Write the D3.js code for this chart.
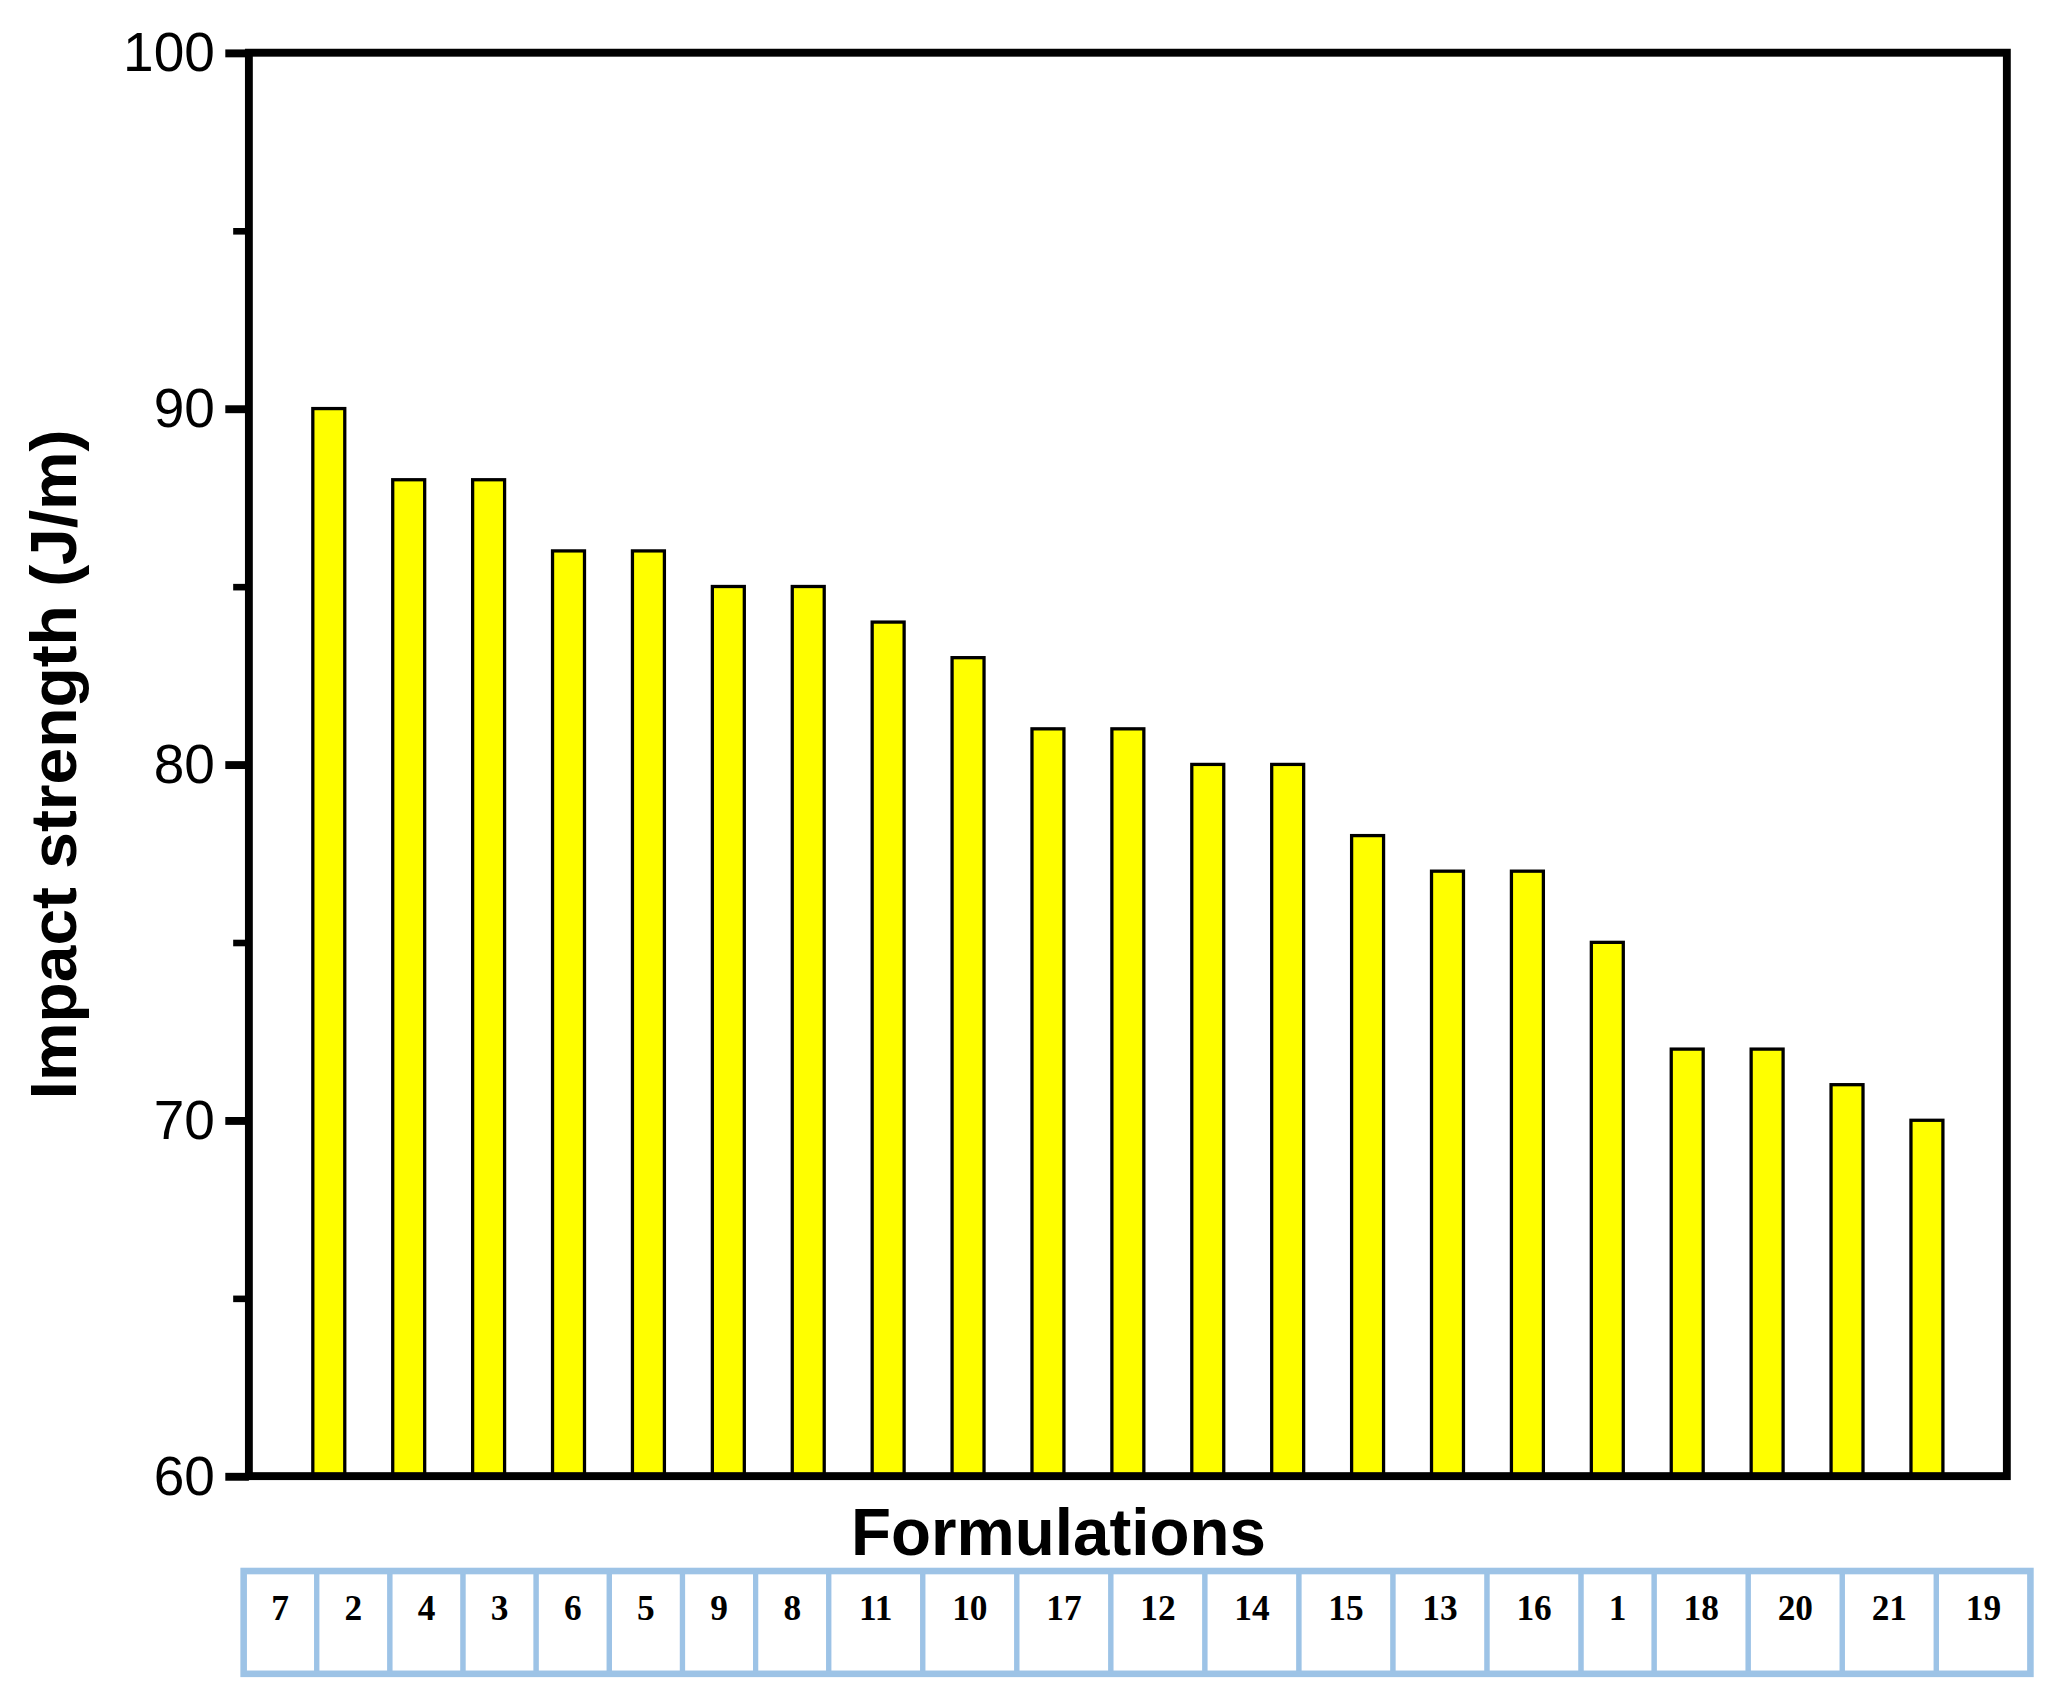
<!DOCTYPE html>
<html><head><meta charset="utf-8">
<script src="https://cdn.jsdelivr.net/npm/d3@7"></script>
<style>body{margin:0;background:#fff}</style></head>
<body><script>
const categories=["7","2","4","3","6","5","9","8","11","10","17","12","14","15","13","16","1","18","20","21","19"];
const values=[90,88,88,86,86,85,85,84,83,81,81,80,80,78,77,77,75,72,72,71,70];
const yTicks=[60,70,80,90,100];
const yMinor=[65,75,85,95];

const svg=d3.select("body").append("svg").attr("width",2054).attr("height",1687)
  .attr("viewBox","0 0 1568 1280").attr("preserveAspectRatio","none");
const L=190,R=1532,T=40,B=1120;
const x=d3.scaleBand().domain(categories).range([L,R]).paddingInner(0.6).paddingOuter(0.8);
const y=d3.scaleLinear().domain([60,100]).range([B,T]);

svg.selectAll(".bar").data(values).join("rect")
  .attr("x",(d,i)=>x(categories[i])).attr("width",x.bandwidth())
  .attr("y",d=>y(d)).attr("height",d=>B-y(d))
  .attr("fill","#ffff00").attr("stroke","#000").attr("stroke-width",2.5);

const yAxis=d3.axisLeft(y).tickValues(yTicks).tickSize(18).tickPadding(8).tickFormat(d3.format("d"));
const gy=svg.append("g").attr("transform",`translate(${L},0)`).call(yAxis);
gy.select(".domain").remove();
gy.selectAll(".tick line").attr("stroke-width",6);
gy.selectAll(".tick text").attr("font-family","Liberation Sans, Arial").attr("font-size",42).attr("fill","#000");
svg.append("g").attr("transform",`translate(${L},0)`)
  .call(d3.axisLeft(y).tickValues(yMinor).tickSize(12).tickFormat(""))
  .call(g=>{g.select(".domain").remove();g.selectAll("line").attr("stroke-width",5);});
// frame
svg.append("rect").attr("x",L).attr("y",T).attr("width",R-L).attr("height",B-T)
  .attr("fill","none").attr("stroke","#000").attr("stroke-width",6);

svg.append("text").attr("transform","translate(58,580) rotate(-90)").attr("text-anchor","middle")
  .attr("font-family","Liberation Sans, Arial").attr("font-weight","bold").attr("font-size",50).text("Impact strength (J/m)");
svg.append("text").attr("x",808).attr("y",1180).attr("text-anchor","middle")
  .attr("font-family","Liberation Sans, Arial").attr("font-weight","bold").attr("font-size",50).text("Formulations");

// table
const tx0=186, tTop=1192, tBot=1270;
const widths=categories.map(c=>c.length>1?72:56);
const tot=d3.sum(widths), scale=(1550-tx0)/tot;
let cx=tx0;
const cells=categories.map((c,i)=>{const w=widths[i]*scale;const o={c,x:cx,w};cx+=w;return o;});
const tg=svg.append("g");
tg.selectAll("rect").data(cells).join("rect").attr("x",d=>d.x).attr("y",tBot-(tBot-tTop)).attr("width",d=>d.w).attr("height",tBot-tTop)
  .attr("fill","#fff").attr("stroke","#9dc3e6").attr("stroke-width",4);
tg.append("rect").attr("x",tx0).attr("y",tTop).attr("width",1550-tx0).attr("height",tBot-tTop).attr("fill","none").attr("stroke","#9dc3e6").attr("stroke-width",5);
tg.selectAll("text").data(cells).join("text").attr("x",d=>d.x+d.w/2).attr("y",1229).attr("text-anchor","middle")
  .attr("font-family","Liberation Serif, Times New Roman").attr("font-weight","bold").attr("font-size",27).text(d=>d.c);
</script></body></html>
